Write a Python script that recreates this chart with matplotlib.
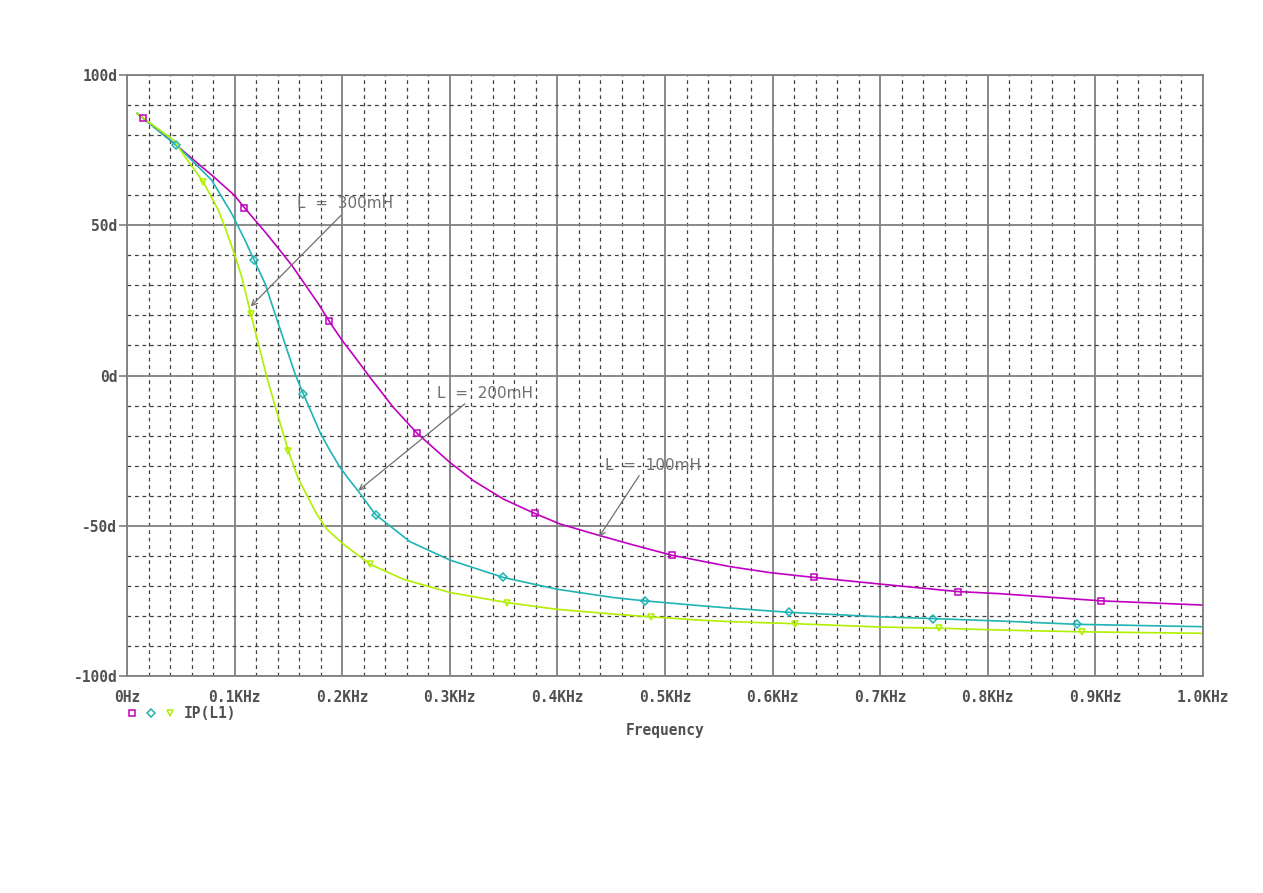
import matplotlib
matplotlib.use("Agg")
import matplotlib.pyplot as plt
from matplotlib.ticker import MultipleLocator

# phase of IP(L1) vs frequency (kHz)
f_100mH = [0.0093, 0.0146, 0.0403, 0.0539, 0.062, 0.080, 0.0997, 0.109, 0.1283,
           0.1425, 0.1531, 0.1639, 0.1778, 0.188, 0.1995, 0.2119, 0.2258, 0.2475,
           0.2698, 0.300, 0.3219, 0.3497, 0.3789, 0.4024, 0.4396, 0.4675, 0.5062,
           0.5604, 0.5976, 0.6385, 0.6998, 0.772, 0.811, 0.9055, 1.0]
p_100mH = [87.2, 85.8, 78.3, 74.2, 71.7, 66.3, 60.0, 55.9, 47.8,
           41.5, 36.7, 31.1, 23.9, 18.0, 11.9, 6.1, -0.6, -10.6,
           -19.3, -28.9, -35.0, -41.1, -45.9, -49.4, -53.3, -56.1, -59.8,
           -63.6, -65.6, -67.2, -69.4, -71.9, -72.6, -75.0, -76.4]

f_200mH = [0.0093, 0.0455, 0.0539, 0.0787, 0.0973, 0.1097, 0.118, 0.1283, 0.1375,
           0.1468, 0.1561, 0.1639, 0.180, 0.1887, 0.198, 0.2072, 0.2135, 0.231,
           0.263, 0.300, 0.3497, 0.3993, 0.452, 0.4814, 0.5325, 0.5604, 0.615,
           0.6998, 0.749, 0.811, 0.8826, 1.0]
p_200mH = [87.2, 76.7, 73.9, 65.0, 53.9, 45.0, 38.5, 30.6, 20.6,
           10.6, 0.6, -6.1, -19.4, -25.0, -30.6, -35.0, -37.8, -46.3,
           -55.3, -61.4, -67.2, -71.1, -73.9, -75.0, -76.6, -77.4, -78.8,
           -80.3, -80.9, -81.7, -82.8, -83.6]

f_300mH = [0.0093, 0.0434, 0.0539, 0.0709, 0.0849, 0.091, 0.0997, 0.1066, 0.1112,
           0.115, 0.1205, 0.130, 0.138, 0.1499, 0.1592, 0.1763, 0.1856, 0.201,
           0.2258, 0.2568, 0.300, 0.3534, 0.3993, 0.452, 0.4867, 0.5325, 0.5604,
           0.621, 0.6998, 0.755, 0.811, 0.888, 1.0]
p_300mH = [87.2, 78.3, 72.8, 64.4, 55.0, 49.4, 40.6, 32.8, 26.1,
           20.6, 12.8, -0.6, -10.6, -25.0, -34.4, -46.1, -51.1, -56.1,
           -62.8, -67.8, -72.2, -75.6, -77.8, -79.4, -80.3, -81.4, -81.9,
           -82.6, -83.7, -84.1, -84.7, -85.3, -85.8]

# marker positions along each trace
mk_f_100 = [0.0146, 0.109, 0.188, 0.2698, 0.3789, 0.5062, 0.6385, 0.772, 0.9055]
mk_p_100 = [85.8, 55.9, 18.0, -19.3, -45.9, -59.8, -67.2, -71.9, -75.0]
mk_f_200 = [0.0455, 0.118, 0.1639, 0.231, 0.3497, 0.4814, 0.615, 0.749, 0.8826]
mk_p_200 = [76.7, 38.5, -6.1, -46.3, -67.2, -75.0, -78.8, -80.9, -82.8]
mk_f_300 = [0.0709, 0.115, 0.1499, 0.2258, 0.3534, 0.4867, 0.621, 0.755, 0.888]
mk_p_300 = [64.4, 20.6, -25.0, -62.8, -75.6, -80.3, -82.6, -84.1, -85.3]

x_ticks = [0.0, 0.1, 0.2, 0.3, 0.4, 0.5, 0.6, 0.7, 0.8, 0.9, 1.0]
x_labels = ["0Hz", "0.1KHz", "0.2KHz", "0.3KHz", "0.4KHz", "0.5KHz",
            "0.6KHz", "0.7KHz", "0.8KHz", "0.9KHz", "1.0KHz"]
y_ticks = [-100, -50, 0, 50, 100]
y_labels = ["-100d", "-50d", "0d", "50d", "100d"]

MAG = "#c000c0"
CYAN = "#20b4b4"
LIME = "#b0f000"
GRID_MAJ = "#808080"
GRID_MIN = "#404040"
TXT = "#505050"

W, H = 1263, 893
fig = plt.figure(figsize=(W / 100, H / 100), dpi=100)
ax = fig.add_axes([127 / W, 1 - 676 / H, (1203 - 127) / W, (676 - 75) / H])

ax.set_xlim(0, 1.0)
ax.set_ylim(-100, 100)
ax.xaxis.set_minor_locator(MultipleLocator(0.02))
ax.yaxis.set_minor_locator(MultipleLocator(10))
ax.set_xticks(x_ticks)
ax.set_xticklabels(x_labels)
ax.set_yticks(y_ticks)
ax.set_yticklabels(y_labels)

ax.grid(which="major", color=GRID_MAJ, linewidth=1.3, linestyle="-")
ax.grid(which="minor", color=GRID_MIN, linewidth=0.9, linestyle=(0, (3, 3)))
ax.set_axisbelow(True)
for s in ax.spines.values():
    s.set_color(GRID_MAJ)
    s.set_linewidth(1.3)

mono = {"family": "DejaVu Sans Mono", "weight": "bold", "size": 10.5}
ax.tick_params(axis="x", which="both", length=0, pad=10, labelcolor=TXT)
ax.tick_params(axis="y", which="major", length=6, width=1.2, color=GRID_MAJ,
               pad=1, labelcolor=TXT)
ax.tick_params(axis="y", which="minor", length=0)
for lab in ax.get_xticklabels() + ax.get_yticklabels():
    lab.set_fontproperties(mono)

ax.plot(f_100mH, p_100mH, color=MAG, linewidth=1.2)
ax.plot(f_200mH, p_200mH, color=CYAN, linewidth=1.2)
ax.plot(f_300mH, p_300mH, color=LIME, linewidth=1.2)
ax.plot(mk_f_100, mk_p_100, linestyle="none", marker="s", markersize=5,
        markerfacecolor="none", markeredgecolor=MAG, markeredgewidth=1.1)
ax.plot(mk_f_200, mk_p_200, linestyle="none", marker="D", markersize=4,
        markerfacecolor="none", markeredgecolor=CYAN, markeredgewidth=1.1)
ax.plot(mk_f_300, mk_p_300, linestyle="none", marker="v", markersize=5,
        markerfacecolor="none", markeredgecolor=LIME, markeredgewidth=1.1)

arrow = dict(arrowstyle="->", color="#707070", linewidth=0.9, shrinkA=0, shrinkB=0)
note = {"family": "DejaVu Sans", "size": 11, "color": "#707070"}
ax.annotate("", xy=(0.115, 23), xytext=(0.1989, 53.3), arrowprops=arrow)
ax.text(0.1577, 57.3, "L  =  300mH", va="center", ha="left", **note)
ax.annotate("", xy=(0.215, -38.3), xytext=(0.3141, -9.4), arrowprops=arrow)
ax.text(0.2878, -5.9, "L  =  200mH", va="center", ha="left", **note)
ax.annotate("", xy=(0.4387, -53.7), xytext=(0.476, -33.3), arrowprops=arrow)
ax.text(0.4442, -30, "L  =  100mH", va="center", ha="left", **note)

# legend row under the axes
ly = 1 - 713 / H
for px, mk, col, ms in [(132, "s", MAG, 5), (151, "D", CYAN, 4), (170, "v", LIME, 5)]:
    fig.add_artist(plt.Line2D([px / W], [ly], marker=mk, markersize=ms,
                              markerfacecolor="none", markeredgecolor=col,
                              markeredgewidth=1.1, linestyle="none"))
fig.text(184 / W, ly, "IP(L1)", ha="left", va="center", color=TXT, **mono)
fig.text(665 / W, 1 - 730 / H, "Frequency", ha="center", va="center", color=TXT, **mono)

fig.savefig("out.png", dpi=100, facecolor="white")
